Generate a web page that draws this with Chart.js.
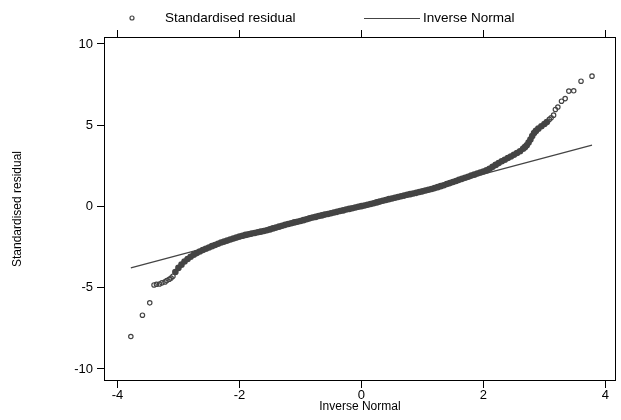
<!DOCTYPE html>
<html>
<head>
<meta charset="utf-8">
<script src="https://cdn.jsdelivr.net/npm/chart.js@4"></script>
<style>
  body { margin: 0; background: #fff; }
</style>
</head>
<body>
<canvas id="qq" width="621" height="420"></canvas>
<script>
// dense part of the quantile plot
const bandX = [
  -3.05, -3.00, -2.95, -2.90, -2.85, -2.80, -2.75, -2.70, -2.65, -2.60,
  -2.55, -2.50, -2.45, -2.40, -2.35, -2.30, -2.25, -2.20, -2.15, -2.10,
  -2.05, -2.00, -1.95, -1.90, -1.85, -1.80, -1.75, -1.70, -1.65, -1.60,
  -1.55, -1.50, -1.45, -1.40, -1.35, -1.30, -1.25, -1.20, -1.15, -1.10,
  -1.05, -1.00, -0.95, -0.90, -0.85, -0.80, -0.75, -0.70, -0.65, -0.60,
  -0.55, -0.50, -0.45, -0.40, -0.35, -0.30, -0.25, -0.20, -0.15, -0.10,
  -0.05, 0.00, 0.05, 0.10, 0.15, 0.20, 0.25, 0.30, 0.35, 0.40,
  0.45, 0.50, 0.55, 0.60, 0.65, 0.70, 0.75, 0.80, 0.85, 0.90,
  0.95, 1.00, 1.05, 1.10, 1.15, 1.20, 1.25, 1.30, 1.35, 1.40,
  1.45, 1.50, 1.55, 1.60, 1.65, 1.70, 1.75, 1.80, 1.85, 1.90,
  1.95, 2.00, 2.05, 2.10, 2.15, 2.20, 2.25, 2.30, 2.35, 2.40,
  2.45, 2.50, 2.55, 2.60, 2.65, 2.68, 2.71, 2.74, 2.77, 2.80,
  2.83, 2.86, 2.90, 2.95, 3.00, 3.04
];
const bandY = [
  -4.03, -3.78, -3.58, -3.39, -3.23, -3.09, -2.97, -2.87, -2.77, -2.68,
  -2.60, -2.52, -2.44, -2.37, -2.29, -2.22, -2.16, -2.10, -2.03, -1.97,
  -1.91, -1.85, -1.80, -1.75, -1.71, -1.67, -1.63, -1.59, -1.55, -1.51,
  -1.46, -1.41, -1.35, -1.30, -1.24, -1.19, -1.13, -1.08, -1.03, -0.98,
  -0.94, -0.89, -0.84, -0.79, -0.73, -0.68, -0.64, -0.59, -0.55, -0.50,
  -0.46, -0.42, -0.37, -0.33, -0.28, -0.24, -0.19, -0.15, -0.11, -0.06,
  -0.02, 0.02, 0.06, 0.11, 0.15, 0.20, 0.25, 0.30, 0.35, 0.40,
  0.45, 0.49, 0.54, 0.58, 0.63, 0.67, 0.72, 0.76, 0.80, 0.84,
  0.89, 0.93, 0.98, 1.03, 1.08, 1.13, 1.19, 1.25, 1.31, 1.38,
  1.44, 1.51, 1.57, 1.64, 1.70, 1.77, 1.83, 1.90, 1.96, 2.03,
  2.09, 2.15, 2.22, 2.32, 2.44, 2.56, 2.67, 2.78, 2.88, 2.98,
  3.08, 3.18, 3.29, 3.40, 3.55, 3.65, 3.77, 3.93, 4.12, 4.33,
  4.52, 4.65, 4.79, 4.94, 5.08, 5.20
];

// separate points in both tails
const tailX = [-3.78, -3.59, -3.47, -3.40, -3.36, -3.31, -3.27, -3.22, -3.19, -3.15, -3.12, -3.09,
               3.08, 3.11, 3.15, 3.18, 3.22, 3.28, 3.34, 3.40, 3.48, 3.60, 3.78];
const tailY = [-8.00, -6.69, -5.93, -4.83, -4.79, -4.77, -4.70, -4.64, -4.56, -4.48, -4.40, -4.29,
               5.36, 5.46, 5.62, 5.97, 6.12, 6.48, 6.64, 7.10, 7.12, 7.71, 8.02];

// reference line
const lineX = [-3.78, 3.78];
const lineY = [-3.78, 3.78];

const xTicks = [-4, -2, 0, 2, 4];
const yTicks = [-10, -5, 0, 5, 10];

const FONT = 'Liberation Sans, Arial, sans-serif';
const INK = '#444';

const toPoints = (xs, ys) => xs.map((x, i) => ({ x: x, y: ys[i] }));

// box around the plot + legend across the top
const framePlugin = {
  id: 'frame',
  afterDraw(chart) {
    const c = chart.ctx;
    const a = chart.chartArea;
    c.save();
    c.strokeStyle = '#000';
    c.lineWidth = 1;
    c.strokeRect(Math.round(a.left) + 0.5, Math.round(a.top) + 0.5,
                 Math.round(a.right - a.left) - 1, Math.round(a.bottom - a.top) - 1);

    // legend
    const ly = 18;
    c.font = '13.5px ' + FONT;
    c.fillStyle = '#000';
    c.textBaseline = 'middle';
    c.strokeStyle = INK;
    c.lineWidth = 1.2;
    c.beginPath();
    c.arc(132, ly, 2, 0, Math.PI * 2);
    c.stroke();
    c.fillText(chart.data.datasets[1].label, 165, ly);
    c.beginPath();
    c.moveTo(364, ly + 0.5);
    c.lineTo(420, ly + 0.5);
    c.stroke();
    c.fillText(chart.data.datasets[0].label, 423, ly);
    c.restore();
  }
};

const tickGrid = { display: true, drawOnChartArea: false, drawTicks: true, tickLength: 7, color: '#000', lineWidth: 1 };

new Chart(document.getElementById('qq'), {
  type: 'scatter',
  data: {
    datasets: [
      {
        label: 'Inverse Normal',
        type: 'line',
        data: toPoints(lineX, lineY),
        borderColor: INK,
        borderWidth: 1.2,
        pointRadius: 0,
        fill: false
      },
      {
        label: 'Standardised residual',
        data: toPoints(bandX, bandY),
        pointRadius: 3.3,
        pointBorderWidth: 0,
        backgroundColor: INK,
        borderColor: INK
      },
      {
        label: 'Standardised residual',
        data: toPoints(tailX, tailY),
        pointRadius: 2.2,
        pointBorderWidth: 1.2,
        backgroundColor: 'rgba(0,0,0,0)',
        borderColor: INK
      }
    ]
  },
  options: {
    responsive: false,
    animation: false,
    events: [],
    layout: { padding: { top: 30, right: 2, left: 0, bottom: 0 } },
    plugins: { legend: { display: false }, tooltip: { enabled: false } },
    scales: {
      x: {
        type: 'linear',
        position: 'bottom',
        min: -4.22,
        max: 4.17,
        afterBuildTicks: s => { s.ticks = xTicks.map(v => ({ value: v })); },
        afterFit: s => { s.height = 39; },
        border: { display: false },
        grid: tickGrid,
        ticks: { color: '#000', font: { family: FONT, size: 13 }, padding: 0, maxRotation: 0 },
        title: { display: true, text: 'Inverse Normal', color: '#000', font: { family: FONT, size: 12 }, padding: { top: 0, bottom: 6 } }
      },
      x2: {
        type: 'linear',
        position: 'top',
        min: -4.22,
        max: 4.17,
        afterBuildTicks: s => { s.ticks = xTicks.map(v => ({ value: v })); },
        afterFit: s => { s.height = 7; },
        border: { display: false },
        grid: tickGrid,
        ticks: { display: false }
      },
      y: {
        type: 'linear',
        position: 'left',
        min: -10.74,
        max: 10.43,
        afterBuildTicks: s => { s.ticks = yTicks.map(v => ({ value: v })); },
        afterFit: s => { s.width = 104; },
        border: { display: false },
        grid: tickGrid,
        ticks: { color: '#000', font: { family: FONT, size: 13 }, padding: 4 },
        title: { display: true, text: 'Standardised residual', color: '#000', font: { family: FONT, size: 12 }, padding: { top: 10, bottom: 0 } }
      }
    }
  },
  plugins: [framePlugin]
});
</script>
</body>
</html>
